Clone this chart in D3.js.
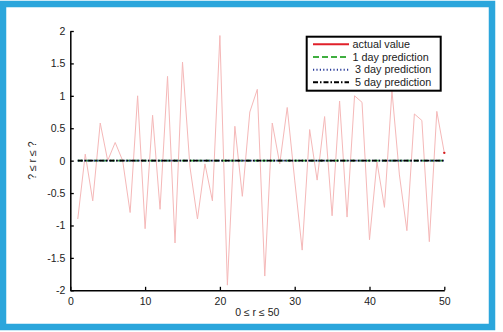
<!DOCTYPE html>
<html>
<head>
<meta charset="utf-8">
<script src="https://cdn.jsdelivr.net/npm/d3@7"></script>
<style>
  html, body { margin: 0; padding: 0; background: #fff; }
  svg { display: block; }
  text { font-family: "Liberation Sans", Arial, sans-serif; }
</style>
</head>
<body>
<svg id="chart" width="503" height="332"></svg>
<script>
// ---- data ----
const days = d3.range(1, 51);
const actualValue = [
  -0.9, 0.1, -0.62, 0.58, 0.0, 0.28, 0.0, -0.8, 1.0, -1.05,
  0.7, -0.75, 1.3, -1.27, 1.52, -0.1, -0.9, -0.05, -0.62, 1.93,
  -1.92, 0.53, -0.55, 0.75, 1.1, -1.78, 0.58, -0.05, 0.82, -0.3,
  -1.38, 0.48, -0.3, 0.68, -0.85, 0.92, -0.87, 1.0, 0.9, -1.22,
  -0.02, -0.72, 1.08, -0.22, -1.08, 0.72, 0.62, -1.25, 0.76, 0.12
];
const pred1Day = days.map(() => 0);
const pred3Day = days.map(() => 0);
const pred5Day = days.map(() => 0);
const xTicks = [0, 10, 20, 30, 40, 50];
const xTickLabels = ["0", "10", "20", "30", "40", "50"];
const yTicks = [2, 1.5, 1, 0.5, 0, -0.5, -1, -1.5, -2];
const yTickLabels = ["2", "1.5", "1", "0.5", "0", "-0.5", "-1", "-1.5", "-2"];
const legendLabels = ["actual value", "1 day prediction", "3 day prediction", "5 day prediction"];
const xLabel = "0 \u2264 r \u2264 50";
const yLabel = "? \u2264 r \u2264 ?";

// ---- layout ----
const svg = d3.select("#chart");
const L = 70.3, R = 444.3, T = 31, B = 290.3;
const x = d3.scaleLinear().domain([0, 50]).range([L, R]);
const y = d3.scaleLinear().domain([-2, 2]).range([B, T]);

// blue frame
svg.append("rect").attr("x", 3).attr("y", 4).attr("width", 489).attr("height", 323)
  .attr("fill", "#fff").attr("stroke", "#2ba6dc").attr("stroke-width", 6.5);

const line = d3.line().x((d, i) => x(days[i])).y(d => y(d));

// actual value (faint)
svg.append("path").datum(actualValue).attr("d", line)
  .attr("fill", "none").attr("stroke", "#f5b8b8").attr("stroke-width", 1);

// predictions at zero
svg.append("path").datum(pred1Day).attr("d", line)
  .attr("fill", "none").attr("stroke", "#3fae3f").attr("stroke-width", 1.8)
  .attr("stroke-dasharray", "5,3");
svg.append("path").datum(pred3Day).attr("d", line)
  .attr("fill", "none").attr("stroke", "#2b3c9a").attr("stroke-width", 1.8)
  .attr("stroke-dasharray", "1.2,2");
svg.append("path").datum(pred5Day).attr("d", line)
  .attr("fill", "none").attr("stroke", "#000").attr("stroke-width", 1.8)
  .attr("stroke-dasharray", "5,2,1.5,2");

// red end mark of the actual value
svg.append("circle").attr("cx", x(days[days.length - 1])).attr("cy", y(actualValue[actualValue.length - 1]))
  .attr("r", 1.2).attr("fill", "#d62020");

// axes
const xAxis = d3.axisBottom(x).tickValues(xTicks).tickFormat((d, i) => xTickLabels[i])
  .tickSizeInner(-3.5).tickSizeOuter(0).tickPadding(7);
const gx = svg.append("g").attr("transform", `translate(0,${B})`).call(xAxis);
const yAxis = d3.axisLeft(y).tickValues(yTicks).tickFormat((d, i) => yTickLabels[i])
  .tickSizeInner(-3.5).tickSizeOuter(0).tickPadding(7);
const gy = svg.append("g").attr("transform", `translate(${L},0)`).call(yAxis);
[gx, gy].forEach(g => {
  g.select(".domain").attr("stroke", "#000").attr("stroke-width", 1.5);
  g.selectAll(".tick line").attr("stroke", "#000").attr("stroke-width", 1.3);
  g.selectAll(".tick text").attr("fill", "#222").attr("font-size", "10.5px")
    .attr("font-family", "Liberation Sans, Arial, sans-serif");
});
gy.selectAll(".tick text").attr("x", -5);

// axis labels
svg.append("text").attr("x", (L + R) / 2).attr("y", 316).attr("text-anchor", "middle")
  .attr("font-size", "10.5px").attr("fill", "#222").text(xLabel);
svg.append("text").attr("transform", `translate(36,${(T + B) / 2}) rotate(-90)`)
  .attr("text-anchor", "middle").attr("font-size", "10.5px").attr("fill", "#222").text(yLabel);

// legend
const lg = svg.append("g");
lg.append("rect").attr("x", 306.7).attr("y", 36.7).attr("width", 134).attr("height", 54)
  .attr("fill", "#fff").attr("stroke", "#000").attr("stroke-width", 2);
const legendStyles = [
  { stroke: "#e0202a", dash: null },
  { stroke: "#3fae3f", dash: "6,3" },
  { stroke: "#2b3c9a", dash: "1.2,2.2" },
  { stroke: "#000", dash: "5,2,1.5,2" }
];
const rowY = d3.scalePoint().domain(d3.range(4)).range([44.3, 82.3]);
legendLabels.forEach((lab, i) => {
  const yy = rowY(i);
  lg.append("line").attr("x1", 313).attr("x2", 349).attr("y1", yy).attr("y2", yy)
    .attr("stroke", legendStyles[i].stroke).attr("stroke-width", 2)
    .attr("stroke-dasharray", legendStyles[i].dash);
  lg.append("text").attr("x", i < 2 ? 352.5 : 355).attr("y", yy).attr("dy", "0.35em")
    .attr("font-size", "10.8px").attr("fill", "#222").text(lab);
});
</script>
</body>
</html>
